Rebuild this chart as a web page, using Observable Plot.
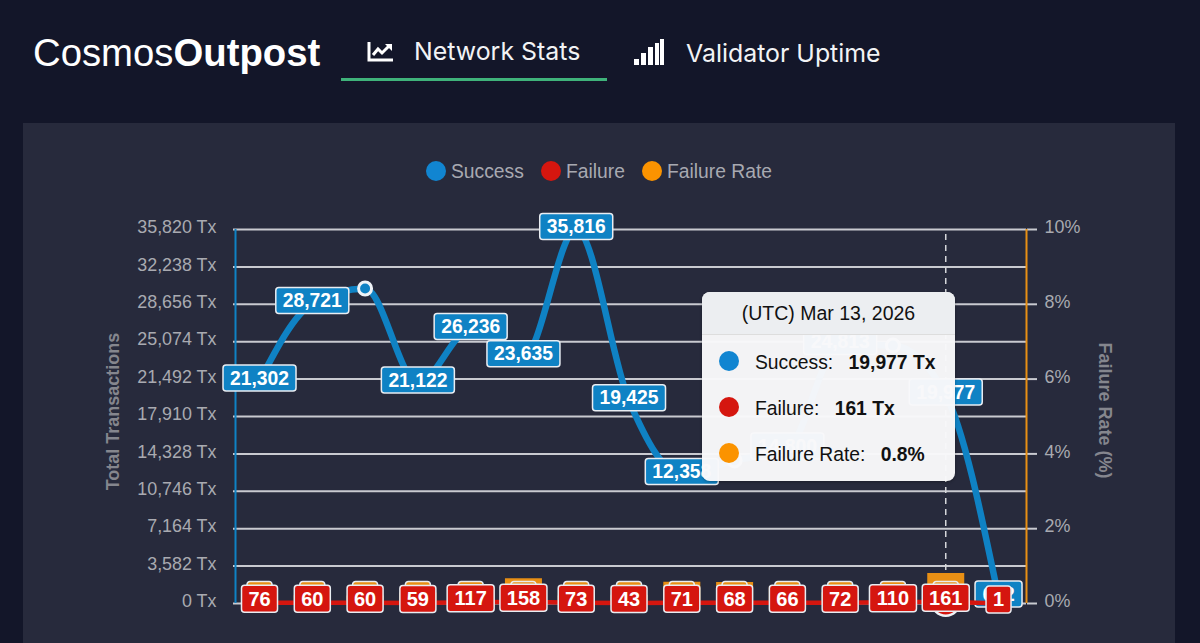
<!DOCTYPE html>
<html><head><meta charset="utf-8">
<script src="https://cdn.jsdelivr.net/npm/d3@7"></script>
<script src="https://cdn.jsdelivr.net/npm/@observablehq/plot@0.6"></script>
<style>
html,body{margin:0;padding:0;background:#131629;width:1200px;height:643px;overflow:hidden;font-family:"Liberation Sans",sans-serif}
.abs{position:absolute;white-space:nowrap}
#panel{position:absolute;left:23px;top:123px;width:1152px;height:520px;background:#272a3c}
#chart{position:absolute;left:0;top:123px}
.nav{font-family:Inter,Roboto,sans-serif;font-size:24.9px;color:#f2f3f5}
.leg{font-size:19.3px;color:#a8a9b1;top:161px}
.dot{position:absolute;width:20px;height:20px;border-radius:50%}
#tip{position:absolute;left:702px;top:292px;width:253px;height:189px;border-radius:8px;background:rgba(248,248,250,.975);color:#111;overflow:hidden;box-shadow:0 1px 3px rgba(0,0,0,.3)}
#tip .h{position:absolute;left:0;top:0;width:100%;height:42px;background:#eceef1;border-bottom:1px solid #ddd;text-align:center;line-height:43px;font-size:19.5px}
#tip .r{position:absolute;left:53px;font-size:19.3px;white-space:nowrap}
#tip b{margin-left:10px}
</style></head><body>
<div class="abs" style="left:33px;top:31px;font-size:38.3px;color:#fff">Cosmos<b>Outpost</b></div>
<svg class="abs" style="left:367px;top:41px" width="28" height="22" viewBox="0 0 28 22"><path d="M2 1V19H26" fill="none" stroke="#fff" stroke-width="3"/><path d="M6 14L11 8L15 12L22 5" fill="none" stroke="#fff" stroke-width="3"/><path d="M18 3H25V10Z" fill="#fff"/></svg>
<div class="abs nav" style="left:414px;top:36px">Network Stats</div>
<div class="abs" style="left:341px;top:78px;width:266px;height:3px;background:#3fb27a"></div>
<svg class="abs" style="left:633px;top:39px" width="32" height="27" viewBox="0 0 32 27"><path d="M1 20h5v6H1zM8 14h5v12H8zM15 8h5v18h-5zM22 4h4v22h-4zM27 0h4v26h-4z" fill="#fff"/></svg>
<div class="abs nav" style="left:686px;top:38px">Validator Uptime</div>
<div id="panel"></div>
<div id="legend"></div>
<div id="chart"></div>
<div id="tip"></div>
<script>
const dates = ["2026-02-28","2026-03-01","2026-03-02","2026-03-03","2026-03-04","2026-03-05","2026-03-06","2026-03-07","2026-03-08","2026-03-09","2026-03-10","2026-03-11","2026-03-12","2026-03-13","2026-03-14"];
const success = [21302,28721,30170,21122,26236,23635,35816,19425,12358,13700,14800,24813,24700,19977,612];
const failure = [76,60,60,59,117,158,73,43,71,68,66,72,110,161,1];
const failureRate = [0.36,0.21,0.2,0.28,0.44,0.66,0.2,0.22,0.57,0.56,0.44,0.29,0.44,0.8,0.16];
const hiddenSuccessLabels = [2,9,12];
const activeIndex = 13;
const leftTicks = [0,3582,7164,10746,14328,17910,21492,25074,28656,32238,35820];
const rightTicks = [0,2,4,6,8,10];
const blue="#0f82c4", red="#d5160f", orange="#e88f14", legendOrange="#fb9300", legendBlue="#1185d1";
const legendItems=[["Success",legendBlue,426,451],["Failure",red,541,566],["Failure Rate",legendOrange,642,667]];

const rows = dates.map((d,i)=>({i,date:new Date(d),success:success[i],failure:failure[i],rate:failureRate[i],rateY:failureRate[i]/10*35820}));
const fmt=d3.format(",");
const rrect=(w,h,r=3)=>({draw(c){const x=w/2,y=h/2;c.moveTo(-x+r,-y);c.lineTo(x-r,-y);c.arcTo(x,-y,x,-y+r,r);c.lineTo(x,y-r);c.arcTo(x,y,x-r,y,r);c.lineTo(-x+r,y);c.arcTo(-x,y,-x,y-r,r);c.lineTo(-x,-y+r);c.arcTo(-x,-y,-x+r,-y,r);c.closePath();}});
const widthFor=s=>s.length>=6?73:s.length===3?47:s.length===2?36:25;
function labels(data,key,yKey,fill,dy,h,fs){
  const out=[];
  for(const [len,grp] of d3.group(data,d=>fmt(d[key]).length)){
    const w=widthFor(fmt(grp[0][key]));
    out.push(Plot.dot(grp,{x:"date",y:yKey,symbol:rrect(w,h),fill,stroke:"#e9edf2",strokeWidth:1.5,dy}));
    out.push(Plot.text(grp,{x:"date",y:yKey,text:d=>fmt(d[key]),fill:"#fff",fontWeight:"bold",fontSize:fs,dy:dy+0.5}));
  }
  return out;
}
const active=rows[activeIndex];
const plot=Plot.plot({
  width:1200,height:520,marginLeft:235,marginRight:174,marginTop:106,marginBottom:40,
  style:{background:"transparent",fontFamily:"'Liberation Sans',sans-serif"},
  x:{type:"utc",domain:[new Date("2026-02-27T13:05Z"),new Date("2026-03-14T12:43Z")],axis:null},
  y:{domain:[0,35820],axis:null},
  marks:[
    Plot.ruleY(leftTicks,{stroke:"#c9cad0",strokeWidth:2}),
    Plot.axisY({ticks:leftTicks,tickSize:2,tickFormat:()=>"",label:null,stroke:"#c9cad0",strokeWidth:2}),
    Plot.axisY({ticks:leftTicks,anchor:"left",tickSize:0,tickPadding:19,dy:-2,fontSize:17.9,color:"#a9aab1",tickFormat:d=>fmt(d)+" Tx",label:null}),
    Plot.axisY({ticks:rightTicks.map(d=>d/10*35820),anchor:"right",tickSize:10,tickFormat:()=>"",label:null,stroke:"#c9cad0",strokeWidth:2}),
    Plot.axisY({ticks:rightTicks.map(d=>d/10*35820),anchor:"right",tickSize:0,tickPadding:18,dy:-2,fontSize:17.9,color:"#a9aab1",tickFormat:d=>Math.round(d/3582)+"%",label:null}),
    Plot.ruleX([new Date("2026-02-27T13:05Z")],{y1:0,y2:35820,stroke:blue,strokeWidth:2}),
    Plot.ruleX([new Date("2026-03-14T12:43Z")],{y1:0,y2:35820,stroke:orange,strokeWidth:2}),
    Plot.text(["Total Transactions"],{frameAnchor:"left",textAnchor:"middle",rotate:-90,dx:-122,dy:-5,fontWeight:"bold",fontSize:18,fill:"#85868e"}),
    Plot.text(["Failure Rate (%)"],{frameAnchor:"right",textAnchor:"middle",rotate:90,dx:78,dy:-6,fontWeight:"bold",fontSize:18,fill:"#85868e"}),
    Plot.ruleX([active],{x:"date",y1:0,y2:35820,stroke:"#d5d6da",strokeWidth:1.5,strokeDasharray:"6 5"}),
    Plot.ruleX(rows,{x:"date",y1:0,y2:"rateY",stroke:orange,strokeWidth:37}),
    Plot.dot(rows.slice(0,14),{x:"date",y:0,symbol:rrect(25,26),fill:orange,stroke:"#e9edf2",strokeWidth:1.5,dy:-9}),
    Plot.line(rows,{x:"date",y:"success",stroke:blue,strokeWidth:6.5,curve:"monotone-x"}),
    Plot.dot(rows.filter(d=>hiddenSuccessLabels.includes(d.i)),{x:"date",y:"success",r:6.5,fill:blue,stroke:"#eef2f6",strokeWidth:3}),
    Plot.dot([active],{x:"date",y:"success",r:10,fill:"#eef2f6",stroke:"#eef2f6"}),
    ...labels(rows.filter(d=>!hiddenSuccessLabels.includes(d.i)),"success","success",blue,-3,26,19.3),
    Plot.line(rows,{x:"date",y:"failure",stroke:red,strokeWidth:4.5}),
    Plot.dot([active],{x:"date",y:"failure",r:14,fill:red,stroke:"#eef2f6",strokeWidth:2.5}),
    ...labels(rows,"failure","failure",red,-4,27,20),
  ]
});
document.getElementById("chart").append(plot);

document.getElementById("legend").innerHTML=legendItems.map(([t,c,dx,tx])=>`<div class="dot" style="left:${dx}px;top:161px;background:${c}"></div><div class="abs leg" style="left:${tx}px">${t}</div>`).join("");
const tipRows=[["Success:",fmt(success[activeIndex])+" Tx",legendBlue],["Failure:",fmt(failure[activeIndex])+" Tx",red],["Failure Rate:",d3.format(".1f")(failureRate[activeIndex])+"%",legendOrange]];
document.getElementById("tip").innerHTML=`<div class="h">(UTC) Mar 13, 2026</div>`+tipRows.map(([a,b,c],i)=>`<div class="dot" style="left:17px;top:${59+i*46}px;background:${c}"></div><div class="r" style="top:${60+i*46}px">${a} <b>${b}</b></div>`).join("");
</script>
</body></html>
